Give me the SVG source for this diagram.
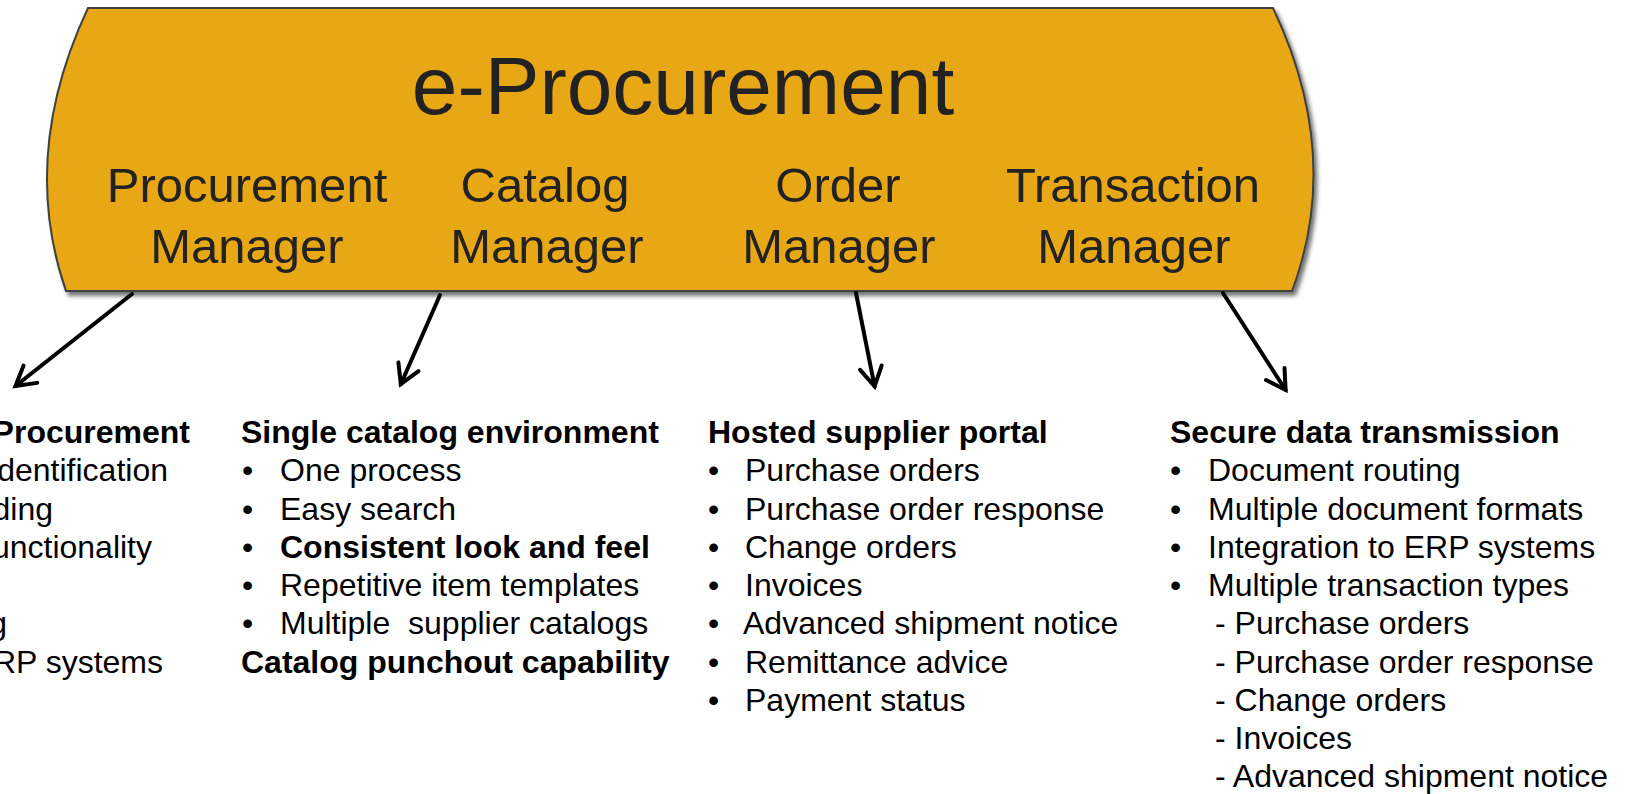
<svg xmlns="http://www.w3.org/2000/svg" width="1625" height="794" viewBox="0 0 1625 794">
  <style>
    text { font-family: "Liberation Sans", Arial, sans-serif; fill: #000; }
    .title { font-size: 82px; fill: #222; text-anchor: middle; }
    .mgr { font-size: 49px; fill: #222; text-anchor: middle; }
    .item { font-size: 32px; }
    .b { font-weight: bold; }
    .end { text-anchor: end; }
    .conn { fill: none; stroke: #000; stroke-width: 4; stroke-linecap: round; }
  </style>
  <defs>
    <filter id="shadow" x="-5%" y="-10%" width="110%" height="125%">
      <feDropShadow dx="3" dy="4" stdDeviation="2" flood-color="#000" flood-opacity="0.55"/>
    </filter>
    <marker id="ah" markerUnits="userSpaceOnUse" viewBox="-24 -16 30 32" refX="0" refY="0" markerWidth="30" markerHeight="32" orient="auto" overflow="visible">
      <path d="M-19,-11 L0,0 L-19,11" fill="none" stroke="#000" stroke-width="4" stroke-linecap="round" stroke-linejoin="miter"/>
    </marker>
  </defs>

  <g id="eprocurement">
    <path d="M88,8 L1273,8 Q1343,155 1292,291 L66,291 Q19,155 88,8 Z" fill="#E8A817" stroke="#404040" stroke-width="2" filter="url(#shadow)"/>
    <text class="title" x="683" y="114">e-Procurement</text>
  </g>

  <g id="procurement-manager">
    <text class="mgr" x="247" y="202">Procurement</text>
    <text class="mgr" x="247" y="263">Manager</text>
  </g>
  <g id="catalog-manager">
    <text class="mgr" x="545" y="202">Catalog</text>
    <text class="mgr" x="547" y="263">Manager</text>
  </g>
  <g id="order-manager">
    <text class="mgr" x="838" y="202">Order</text>
    <text class="mgr" x="839" y="263">Manager</text>
  </g>
  <g id="transaction-manager">
    <text class="mgr" x="1133" y="202">Transaction</text>
    <text class="mgr" x="1134" y="263">Manager</text>
  </g>

  <g id="connectors">
    <line class="conn" x1="132" y1="294" x2="15.5" y2="386" marker-end="url(#ah)"/>
    <line class="conn" x1="440" y1="295" x2="400.8" y2="384.2" marker-end="url(#ah)"/>
    <line class="conn" x1="856" y1="293" x2="874.6" y2="386.3" marker-end="url(#ah)"/>
    <line class="conn" x1="1223" y1="293" x2="1285.6" y2="390" marker-end="url(#ah)"/>
  </g>

  <g id="procurement-list">
    <text class="item b end" x="190" y="443">Procurement</text>
    <text class="item end" x="168" y="481">dentification</text>
    <text class="item end" x="53" y="519.5">ding</text>
    <text class="item end" x="152" y="558">unctionality</text>
    <text class="item end" x="7" y="634">g</text>
    <text class="item end" x="163" y="672.5">RP systems</text>
  </g>

  <g id="catalog-list">
    <text class="item b" x="241" y="443">Single catalog environment</text>
    <text class="item" x="242" y="481">•</text><text class="item" x="280" y="481">One process</text>
    <text class="item" x="242" y="519.5">•</text><text class="item" x="280" y="519.5">Easy search</text>
    <text class="item" x="242" y="558">•</text><text class="item b" x="280" y="558">Consistent look and feel</text>
    <text class="item" x="242" y="596">•</text><text class="item" x="280" y="596">Repetitive item templates</text>
    <text class="item" x="242" y="634">•</text><text class="item" x="280" y="634" style="white-space:pre" xml:space="preserve">Multiple  supplier catalogs</text>
    <text class="item b" x="241" y="672.5">Catalog punchout capability</text>
  </g>

  <g id="order-list">
    <text class="item b" x="708" y="443">Hosted supplier portal</text>
    <text class="item" x="708" y="481">•</text><text class="item" x="745" y="481">Purchase orders</text>
    <text class="item" x="708" y="519.5">•</text><text class="item" x="745" y="519.5">Purchase order response</text>
    <text class="item" x="708" y="558">•</text><text class="item" x="745" y="558">Change orders</text>
    <text class="item" x="708" y="596">•</text><text class="item" x="745" y="596">Invoices</text>
    <text class="item" x="708" y="634">•</text><text class="item" x="743" y="634">Advanced shipment notice</text>
    <text class="item" x="708" y="672.5">•</text><text class="item" x="745" y="672.5">Remittance advice</text>
    <text class="item" x="708" y="711">•</text><text class="item" x="745" y="711">Payment status</text>
  </g>

  <g id="transaction-list">
    <text class="item b" x="1170" y="443">Secure data transmission</text>
    <text class="item" x="1170" y="481">•</text><text class="item" x="1208" y="481">Document routing</text>
    <text class="item" x="1170" y="519.5">•</text><text class="item" x="1208" y="519.5">Multiple document formats</text>
    <text class="item" x="1170" y="558">•</text><text class="item" x="1208" y="558">Integration to ERP systems</text>
    <text class="item" x="1170" y="596">•</text><text class="item" x="1208" y="596">Multiple transaction types</text>
    <text class="item" x="1215" y="634">- Purchase orders</text>
    <text class="item" x="1215" y="672.5">- Purchase order response</text>
    <text class="item" x="1215" y="711">- Change orders</text>
    <text class="item" x="1215" y="749">- Invoices</text>
    <text class="item" x="1215" y="787">- Advanced shipment notice</text>
  </g>
</svg>
